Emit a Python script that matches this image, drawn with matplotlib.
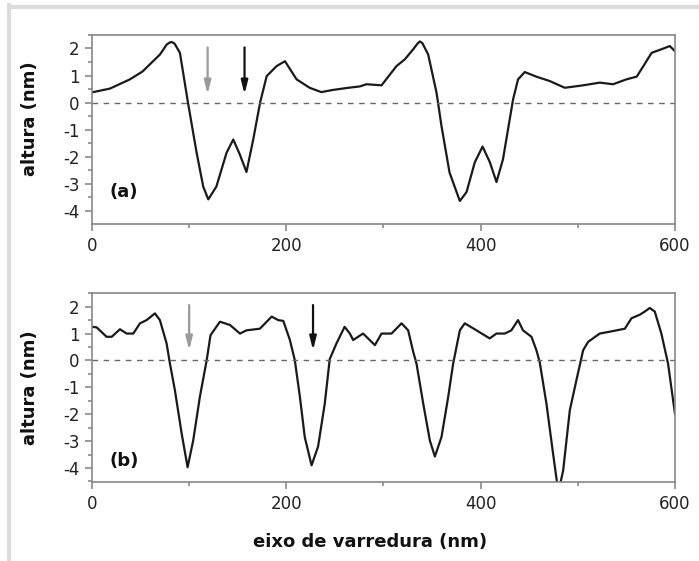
import matplotlib
matplotlib.use("Agg")
import matplotlib.pyplot as plt
from matplotlib.lines import Line2D
from matplotlib.ticker import MultipleLocator

plt.rcParams["axes.unicode_minus"] = False
plt.rcParams["font.family"] = "DejaVu Sans"

# perfil (a)
xa = [0, 18.5, 39, 52, 70, 77, 80, 82, 85, 90.5, 98.8, 107.7, 114.5, 119.7, 128, 138.5,
      145.4, 152, 159, 166, 173, 179.8, 190, 198.6, 210.6, 224, 236, 248, 264, 275.7,
      282.6, 298, 313.4, 322, 330.6, 335, 337.4, 340, 346, 354.6, 359.7, 368, 378.6,
      385.5, 394, 402, 409.5, 416.3, 423, 433.4, 438.5, 445.4, 457.4, 471, 486.6,
      505.5, 522.6, 536.3, 550, 560.6, 567.5, 576, 586, 594.7, 600]
ya = [0.38, 0.52, 0.86, 1.15, 1.78, 2.15, 2.22, 2.24, 2.18, 1.84, 0.0, -1.85, -3.1,
      -3.57, -3.1, -1.85, -1.36, -1.9, -2.56, -1.35, 0.0, 0.98, 1.35, 1.53, 0.86, 0.55,
      0.39, 0.47, 0.55, 0.6, 0.68, 0.64, 1.35, 1.6, 1.97, 2.18, 2.26, 2.2, 1.78, 0.37,
      -0.86, -2.58, -3.63, -3.3, -2.2, -1.62, -2.2, -2.93, -2.09, 0.12, 0.86, 1.13,
      0.96, 0.8, 0.55, 0.64, 0.74, 0.68, 0.86, 0.96, 1.35, 1.84, 1.97, 2.09, 1.9]

# perfil (b)
xb = [0, 4.8, 15, 20.3, 28.8, 35.7, 42.5, 49.4, 56.2, 64.8, 69.9, 76.8, 80.2, 85.3,
      92.3, 98.4, 104.2, 111, 118, 122, 131.7, 142, 152.3, 159, 172.8, 184.9, 191.7,
      196.9, 203.7, 208.8, 214, 219, 226, 232.7, 239.6, 244.7, 251.6, 260, 265.4,
      268.8, 279, 291.2, 298, 308.3, 318.6, 325.4, 330.6, 334, 340.9, 347.7, 352.9,
      359.7, 366.6, 371.7, 378.6, 383.7, 395.7, 409.3, 416.3, 424.8, 431.6, 438.5,
      443.6, 452.3, 457.4, 460.8, 467.7, 474.5, 480, 484.9, 491.8, 498.6, 505.5,
      510.6, 522.6, 533, 548.4, 555.3, 563.8, 569, 574.1, 579.2, 586, 592.9, 600]
yb = [1.25, 1.23, 0.88, 0.88, 1.16, 1.0, 1.0, 1.38, 1.5, 1.75, 1.5, 0.63, -0.11, -1.1,
      -2.72, -3.97, -2.97, -1.36, 0.0, 0.94, 1.44, 1.32, 1.0, 1.12, 1.18, 1.63, 1.5,
      1.47, 0.76, 0.0, -1.36, -2.85, -3.9, -3.2, -1.6, 0.05, 0.63, 1.25, 1.0, 0.76,
      1.0, 0.57, 1.0, 1.0, 1.38, 1.12, 0.32, -0.12, -1.6, -2.97, -3.57, -2.85, -1.36,
      -0.12, 1.12, 1.38, 1.12, 0.82, 1.0, 1.0, 1.12, 1.5, 1.12, 0.88, 0.38, -0.06,
      -1.6, -3.45, -4.9, -4.1, -1.85, -0.73, 0.38, 0.69, 1.0, 1.07, 1.18, 1.57, 1.7,
      1.82, 1.95, 1.82, 1.0, -0.12, -1.98]

# setas: (x, y_topo, y_ponta, cor)
arrows_a = [(119, 2.04, 0.31, "#9a9a9a"), (157, 2.04, 0.31, "#111111")]
arrows_b = [(100, 2.06, 0.38, "#9a9a9a"), (227.5, 2.06, 0.38, "#111111")]

fig = plt.figure(figsize=(6.99, 5.61), dpi=100)
ax1 = fig.add_axes([0.1316, 0.6007, 0.834, 0.337])
ax2 = fig.add_axes([0.1316, 0.1408, 0.834, 0.3375])

panels = [(ax1, xa, ya, arrows_a, "(a)", -3.3, (-4.48, 2.5), 0.556),
          (ax2, xb, yb, arrows_b, "(b)", -3.75, (-4.52, 2.52), 0.5)]

for ax, x, y, arrows, tag, ytag, ylim, ylab_y in panels:
    ax.plot(x, y, color="#1a1a1a", lw=1.6, solid_joinstyle="round")
    ax.axhline(0, color="#666666", lw=1.0, ls=(0, (4, 4)))
    for xs, y0, y1, c in arrows:
        ax.annotate("", xy=(xs, y1), xytext=(xs, y0),
                    arrowprops=dict(arrowstyle="-|>,head_width=0.2,head_length=0.8",
                                    color=c, lw=1.6, shrinkA=0, shrinkB=0))
    ax.text(18.5, ytag, tag, fontsize=13, fontweight="bold", va="center", ha="left",
            color="#111111")
    ax.set_xlim(0, 600)
    ax.set_ylim(*ylim)
    ax.xaxis.set_major_locator(MultipleLocator(200))
    ax.xaxis.set_minor_locator(MultipleLocator(100))
    ax.yaxis.set_major_locator(MultipleLocator(1))
    ax.yaxis.set_minor_locator(MultipleLocator(0.5))
    ax.tick_params(which="both", direction="out", color="#808080", width=1.1,
                   labelcolor="#222222", labelsize=12)
    ax.tick_params(which="major", length=5, pad=4)
    ax.tick_params(which="minor", length=3)
    for sp in ax.spines.values():
        sp.set_color("#888888")
        sp.set_linewidth(1.2)
    ax.set_ylabel("altura (nm)", fontsize=13, fontweight="bold", color="#111111")
    ax.yaxis.set_label_coords(-0.091, ylab_y)

ax2.set_xlabel("eixo de varredura (nm)", fontsize=13, fontweight="bold", color="#111111")
ax2.xaxis.set_label_coords(0.477, -0.27)

# moldura cinza clara (topo e esquerda)
fig.add_artist(Line2D([10 / 699, 1.0], [1 - 7 / 561, 1 - 7 / 561],
                      transform=fig.transFigure, color="#dcdcdc", lw=3))
fig.add_artist(Line2D([9 / 699, 9 / 699], [1 - 5 / 561, 0.0],
                      transform=fig.transFigure, color="#dcdcdc", lw=3))

fig.savefig("out.png", dpi=100, facecolor="white")
